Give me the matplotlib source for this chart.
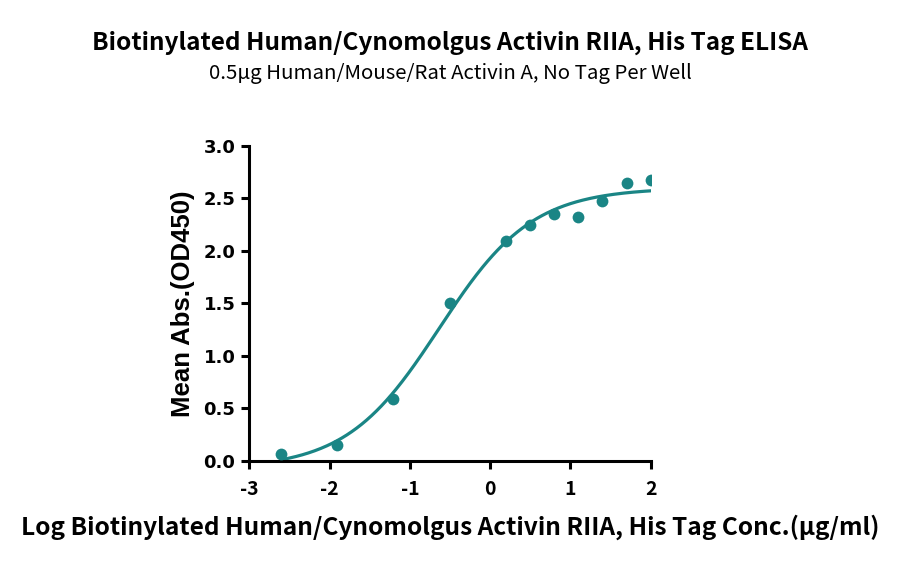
import matplotlib
matplotlib.use("Agg")
import matplotlib.pyplot as plt
import numpy as np

# data
log_conc = [-2.602, -1.903, -1.204, -0.505, 0.194, 0.495, 0.796, 1.097, 1.398, 1.699, 2.0]
od450 = [0.067, 0.152, 0.587, 1.506, 2.096, 2.249, 2.353, 2.325, 2.477, 2.642, 2.674]

title = "Biotinylated Human/Cynomolgus Activin RIIA, His Tag ELISA"
subtitle = "0.5\u00b5g Human/Mouse/Rat Activin A, No Tag Per Well"
x_label = "Log Biotinylated Human/Cynomolgus Activin RIIA, His Tag Conc.(\u00b5g/ml)"
y_label = "Mean Abs.(OD450)"
x_ticks = [-3, -2, -1, 0, 1, 2]
y_ticks = [0.0, 0.5, 1.0, 1.5, 2.0, 2.5, 3.0]

teal = "#1a8585"
cjk = ["Noto Sans CJK SC", "DejaVu Sans"]


def four_pl(x, p):
	bottom, top, logec50, hill = p
	return bottom + (top - bottom) / (1 + 10 ** ((logec50 - x) * hill))


def fit_four_pl(x, y):
	# small Levenberg-Marquardt fit, no scipy needed
	x = np.asarray(x)
	y = np.asarray(y)
	p = np.array([min(y), max(y), np.median(x), 1.0])
	lam = 1e-2
	for _ in range(500):
		r = y - four_pl(x, p)
		J = np.zeros((len(x), 4))
		for i in range(4):
			dp = np.zeros(4)
			dp[i] = 1e-6
			J[:, i] = (four_pl(x, p + dp) - four_pl(x, p - dp)) / 2e-6
		A = J.T @ J
		step = np.linalg.solve(A + lam * np.diag(np.diag(A)), J.T @ r)
		new_p = p + step
		if np.sum((y - four_pl(x, new_p)) ** 2) < np.sum(r ** 2):
			p = new_p
			lam *= 0.5
		else:
			lam *= 4
	return p


params = fit_four_pl(log_conc, od450)
xs = np.linspace(min(log_conc), max(log_conc), 300)

fig = plt.figure(figsize=(9, 5.66), dpi=100)
ax = fig.add_axes([0.277, 0.1855, 0.446, 0.557])

ax.plot(xs, four_pl(xs, params), color=teal, lw=2.3, zorder=2)
ax.scatter(log_conc, od450, s=72, color=teal, zorder=3, linewidths=0)

ax.set_xlim(-3, 2)
ax.set_ylim(0, 3)
ax.set_xticks(x_ticks)
ax.set_yticks(y_ticks)
ax.set_xticklabels([str(t) for t in x_ticks], family=cjk, fontweight="bold", fontsize=14)
ax.set_yticklabels(["%.1f" % t for t in y_ticks], family="DejaVu Sans", fontweight="bold", fontsize=13)
ax.tick_params(direction="out", length=6, width=2.2, pad=4)
ax.tick_params(axis="x", pad=8)
for side in ["top", "right"]:
	ax.spines[side].set_visible(False)
for side in ["left", "bottom"]:
	ax.spines[side].set_linewidth(2.2)
ax.spines["left"].set_bounds(0, 3)
ax.spines["bottom"].set_bounds(-3, 2)

ax.set_ylabel(y_label, family="Liberation Sans", fontweight="bold", fontsize=18.5, labelpad=6)
fig.text(0.5, 0.069, x_label, ha="center", va="center", family=cjk, fontweight="bold", fontsize=17.6)
fig.text(0.5, 0.924, title, ha="center", va="center", family=cjk, fontweight="bold", fontsize=17.5)
fig.text(0.5, 0.871, subtitle, ha="center", va="center", family=cjk, fontsize=14.7)

fig.savefig("out.png", dpi=100)
